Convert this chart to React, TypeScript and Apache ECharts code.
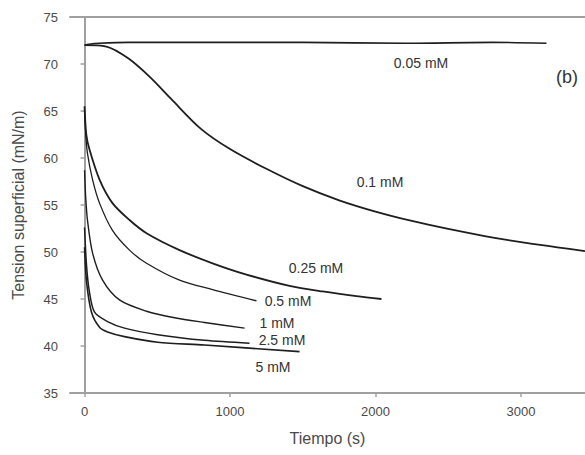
import React, { useEffect, useRef } from "react";
import * as echarts from "echarts";

const xTicks = [0, 1000, 2000, 3000];

const t005 = [0, 30, 100, 300, 800, 1500, 2200, 2800, 3175];
const v005 = [72.0, 72.1, 72.2, 72.3, 72.3, 72.3, 72.2, 72.3, 72.2];

const t01 = [0, 150, 300, 450, 600, 800, 1000, 1250, 1500, 1750, 2000, 2250, 2500, 2750, 3000, 3250, 3440];
const v01 = [72.0, 71.85, 70.6, 68.6, 66.2, 63.1, 60.95, 58.85, 57.0, 55.5, 54.3, 53.3, 52.45, 51.7, 51.05, 50.5, 50.1];

const t025 = [0, 12, 34, 103, 192, 309, 426, 653, 880, 1113, 1409, 1636, 1869, 2041];
const v025 = [65.5, 62.5, 60.9, 57.7, 55.2, 53.4, 52.0, 50.2, 48.8, 47.6, 46.4, 45.8, 45.3, 45.0];

const t05 = [0, 8, 20, 55, 103, 192, 309, 426, 653, 880, 1182];
const v05 = [65.0, 62.5, 60.5, 57.7, 55.2, 52.3, 50.2, 48.8, 47.0, 46.0, 44.8];

const t1 = [0, 8, 20, 55, 124, 240, 426, 619, 825, 1100];
const v1 = [58.7, 55.8, 53.4, 49.9, 47.0, 44.9, 43.7, 43.0, 42.5, 41.9];

const t25 = [0, 14, 34, 69, 158, 275, 502, 825, 1134];
const v25 = [52.6, 48.5, 45.7, 43.6, 42.6, 41.9, 41.2, 40.6, 40.3];

const t5 = [0, 14, 48, 103, 158, 275, 502, 825, 1478];
const v5 = [50.5, 46.8, 43.6, 42.0, 41.5, 41.0, 40.4, 40.1, 39.4];

const seriesDefs = [
  { name: "0.05 mM", t: t005, v: v005, w: 1.6 },
  { name: "0.1 mM", t: t01, v: v01, w: 1.8 },
  { name: "0.25 mM", t: t025, v: v025, w: 1.8 },
  { name: "0.5 mM", t: t05, v: v05, w: 1.3 },
  { name: "1 mM", t: t1, v: v1, w: 1.4 },
  { name: "2.5 mM", t: t25, v: v25, w: 1.5 },
  { name: "5 mM", t: t5, v: v5, w: 1.6 },
];

const labelDefs = [
  { text: "0.05 mM", x: 421, y: 63 },
  { text: "0.1 mM", x: 380, y: 182 },
  { text: "0.25 mM", x: 316, y: 268 },
  { text: "0.5 mM", x: 288, y: 301 },
  { text: "1 mM", x: 277, y: 323 },
  { text: "2.5 mM", x: 282, y: 340 },
  { text: "5 mM", x: 273, y: 367 },
];

const FONT = "'Liberation Sans', Arial, sans-serif";
const AXIS_COLOR = "#a0a0a0";
const TEXT_COLOR = "#4a4a4a";

export default function App() {
  const ref = useRef<HTMLDivElement>(null);
  useEffect(() => {
    if (!ref.current) return;
    const chart = echarts.init(ref.current, undefined, { renderer: "svg" });
    chart.setOption({
      animation: false,
      backgroundColor: "#ffffff",
      grid: { left: 70, top: 17, right: 0, bottom: 62, containLabel: false },
      xAxis: [
        {
          type: "value",
          min: -100,
          max: 3440,
          position: "bottom",
          splitLine: { show: false },
          axisLine: { show: true, lineStyle: { color: AXIS_COLOR, width: 2 } },
          axisTick: { show: true, customValues: xTicks, length: 4, lineStyle: { color: AXIS_COLOR, width: 1.5 } },
          axisLabel: {
            customValues: xTicks,
            formatter: (v: number) => String(v),
            color: TEXT_COLOR,
            fontSize: 13,
            fontFamily: FONT,
            margin: 12,
          },
          name: "Tiempo (s)",
          nameLocation: "middle",
          nameGap: 37,
          nameTextStyle: { color: TEXT_COLOR, fontSize: 16, fontFamily: FONT },
        },
        {
          type: "value",
          min: -100,
          max: 3440,
          position: "top",
          splitLine: { show: false },
          axisLine: { show: true, lineStyle: { color: AXIS_COLOR, width: 2 } },
          axisTick: { show: false },
          axisLabel: { show: false },
        },
      ],
      yAxis: {
        type: "value",
        min: 35,
        max: 75,
        interval: 5,
        splitLine: { show: false },
        axisLine: { show: true, lineStyle: { color: AXIS_COLOR, width: 2 } },
        axisTick: { show: true, length: 4, lineStyle: { color: AXIS_COLOR, width: 1.5 } },
        axisLabel: { color: TEXT_COLOR, fontSize: 13, fontFamily: FONT, margin: 12 },
        name: "Tension superficial (mN/m)",
        nameLocation: "middle",
        nameGap: 44,
        nameTextStyle: { color: TEXT_COLOR, fontSize: 16, fontFamily: FONT },
      },
      series: seriesDefs.map((s) => ({
        type: "line",
        name: s.name,
        xAxisIndex: 0,
        data: s.t.map((t, i) => [t, s.v[i]]),
        showSymbol: false,
        smooth: 0.3,
        clip: true,
        lineStyle: { color: "#1e1e1e", width: s.w },
      })),
      graphic: [
        ...labelDefs.map((l) => ({
          type: "text",
          x: l.x,
          y: l.y,
          style: {
            text: l.text,
            fill: "#333333",
            fontSize: 14,
            fontFamily: FONT,
            align: "center",
            verticalAlign: "middle",
          },
        })),
        {
          type: "text",
          x: 567,
          y: 77,
          style: {
            text: "(b)",
            fill: "#333333",
            fontSize: 18,
            fontFamily: FONT,
            align: "center",
            verticalAlign: "middle",
          },
        },
      ],
    });
    return () => chart.dispose();
  }, []);
  return (
    <div
      ref={ref}
      style={{ position: "fixed", left: 0, top: 0, width: 585, height: 455 }}
    />
  );
}
